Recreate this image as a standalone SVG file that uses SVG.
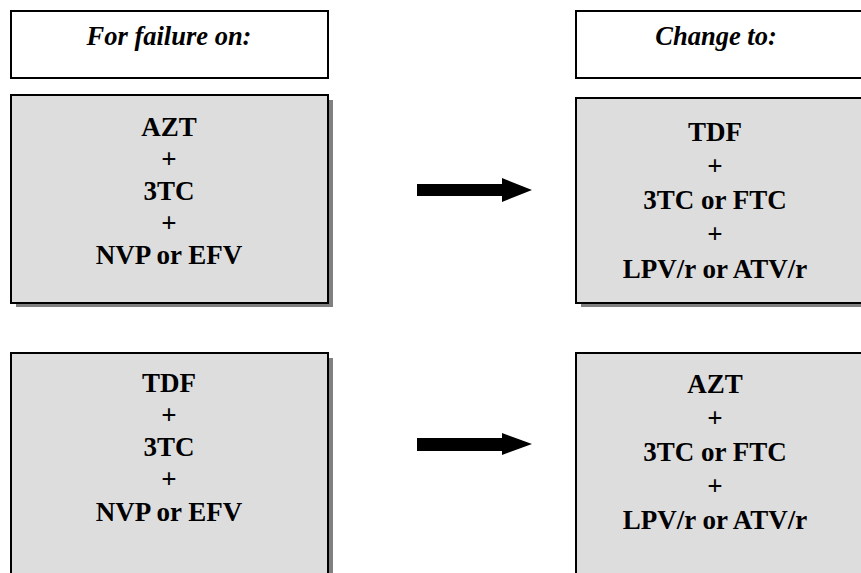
<svg xmlns="http://www.w3.org/2000/svg" width="861" height="573" viewBox="0 0 861 573">
<defs>
<style>
.hdr{fill:#fff;stroke:#000;stroke-width:2}
.box{fill:#dddddd;stroke:#000;stroke-width:2}
.sh{fill:#808080}
.t{font-family:"Liberation Serif","Times New Roman",serif;font-weight:bold;font-size:27px;fill:#000;text-anchor:middle}
.ti{font-style:italic;font-size:26.5px}
.arr{fill:#000}
</style>
</defs>
<rect width="861" height="573" fill="#fff"/>
<g id="hdr-left">
<rect class="hdr" x="11" y="11" width="317" height="67"/>
<text class="t ti" x="169" y="45">For failure on:</text>
</g>
<g id="hdr-right">
<rect class="hdr" x="576" y="11" width="300" height="67"/>
<text class="t ti" x="716" y="45">Change to:</text>
</g>
<g id="box-tl">
<rect class="sh" x="16" y="100" width="317" height="207"/>
<rect class="box" x="11" y="95" width="317" height="208"/>
<text class="t" x="169" y="136">AZT</text>
<text class="t" x="169" y="168">+</text>
<text class="t" x="169" y="200">3TC</text>
<text class="t" x="169" y="232">+</text>
<text class="t" x="169" y="264">NVP or EFV</text>
</g>
<g id="box-tr">
<rect class="sh" x="581" y="103" width="300" height="204"/>
<rect class="box" x="576" y="98" width="300" height="205"/>
<text class="t" x="715" y="141">TDF</text>
<text class="t" x="715" y="175">+</text>
<text class="t" x="715" y="209">3TC or FTC</text>
<text class="t" x="715" y="243">+</text>
<text class="t" x="715" y="278">LPV/r or ATV/r</text>
</g>
<g id="box-bl">
<rect class="sh" x="16" y="358" width="317" height="230"/>
<rect class="box" x="11" y="353" width="317" height="230"/>
<text class="t" x="169" y="392">TDF</text>
<text class="t" x="169" y="424">+</text>
<text class="t" x="169" y="456">3TC</text>
<text class="t" x="169" y="488">+</text>
<text class="t" x="169" y="521">NVP or EFV</text>
</g>
<g id="box-br">
<rect class="sh" x="581" y="358" width="300" height="230"/>
<rect class="box" x="576" y="353" width="300" height="230"/>
<text class="t" x="715" y="393">AZT</text>
<text class="t" x="715" y="427">+</text>
<text class="t" x="715" y="461">3TC or FTC</text>
<text class="t" x="715" y="495">+</text>
<text class="t" x="715" y="529">LPV/r or ATV/r</text>
</g>
<g id="connectors">
<polygon class="arr" points="417,184 502,184 502,178 532,190 502,202 502,196 417,196"/>
<polygon class="arr" points="417,438 502,438 502,433 532,444 502,455 502,451 417,451"/>
</g>
</svg>
